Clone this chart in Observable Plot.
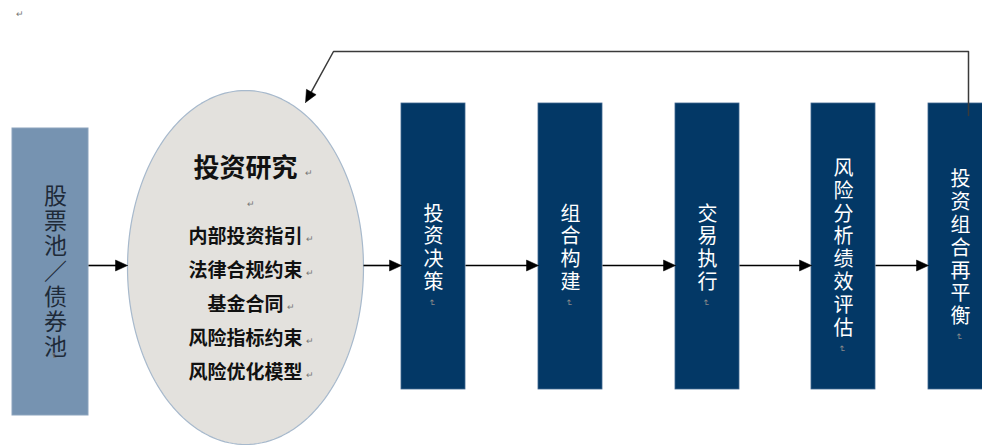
<!DOCTYPE html>
<html><head><meta charset="utf-8">
<script src="https://cdn.jsdelivr.net/npm/d3@7"></script>
<script src="https://cdn.jsdelivr.net/npm/@observablehq/plot@0.6"></script>
<style>
html,body{margin:0;padding:0;background:#fff;}
#chart{width:982px;height:446px;overflow:hidden;}
</style>
</head><body><div id="chart"></div>
<script>
// ---- content ----
const poolLabel = "股票池／债券池";
const researchTitle = "投资研究";
const researchItems = ["内部投资指引", "法律合规约束", "基金合同", "风险指标约束", "风险优化模型"];
const stages = ["投资决策", "组合构建", "交易执行", "风险分析绩效评估", "投资组合再平衡"];

// ---- layout ----
const W = 982, H = 446;
const flowY = 265;
const pool = {x1: 12, x2: 88, y1: 128, y2: 415};
const ell = {cx: 245, cy: 267, rx: 118, ry: 177};
const stageLeft = [401, 538, 675, 811, 928];
const stageW = 64, stageTop = 103, stageBottom = 389;
const fb = {x: 968, yStart: 115, yTop: 51, xTurn: 333, tipX: 305, tipY: 102};
const cjk = "'Noto Sans CJK SC', 'Noto Sans', sans-serif";

const stageRects = stages.map((s, i) => ({name: s, x1: stageLeft[i], x2: stageLeft[i] + stageW, y1: stageTop, y2: stageBottom}));

const ellPts = d3.range(0, 361, 2).map(a => ({
  x: ell.cx + ell.rx * Math.cos(a * Math.PI / 180),
  y: ell.cy + ell.ry * Math.sin(a * Math.PI / 180)
}));

const segs = [[pool.x2, ell.cx - ell.rx], [ell.cx + ell.rx, stageLeft[0]]];
for (let i = 0; i < stageLeft.length - 1; i++) segs.push([stageLeft[i] + stageW, stageLeft[i + 1]]);

const headL = 12, headW = 5.5;
function head(id, tx, ty, ux, uy) {
  const n = Math.hypot(ux, uy); ux /= n; uy /= n;
  const bx = tx - headL * ux, by = ty - headL * uy;
  return [
    {id, x: tx, y: ty},
    {id, x: bx - headW * uy, y: by + headW * ux},
    {id, x: bx + headW * uy, y: by - headW * ux},
    {id, x: tx, y: ty}
  ];
}
const flowLines = segs.map(([a, b]) => ({x1: a, x2: b - headL + 1, y: flowY}));
let heads = segs.flatMap(([a, b], i) => head("h" + i, b, flowY, 1, 0));

const dx = fb.tipX - fb.xTurn, dy = fb.tipY - fb.yTop, dn = Math.hypot(dx, dy);
const fbPts = [
  {x: fb.x, y: fb.yStart}, {x: fb.x, y: fb.yTop}, {x: fb.xTurn, y: fb.yTop},
  {x: fb.tipX - (headL - 1) * dx / dn, y: fb.tipY - (headL - 1) * dy / dn}
];
heads = heads.concat(head("fb", fb.tipX, fb.tipY, dx, dy));

const vert = s => Array.from(s).join("\n");
const stageText = stages.map((s, i) => ({t: vert(s), x: stageLeft[i] + stageW / 2, y: 247}));
const stageMarks = stages.map((s, i) => ({x: stageLeft[i] + stageW / 2 - 2, y: 247 + Array.from(s).length * 11.4 + 10}));
const itemRows = researchItems.map((t, i) => ({t, x: ell.cx, y: 236 + i * 34}));
const itemMarks = researchItems.map((t, i) => ({x: ell.cx + t.length * 9.5 + 7, y: 239 + i * 34}));

const chart = Plot.plot({
  width: W, height: H,
  margin: 0,
  x: {domain: [0, W], range: [0, W], axis: null},
  y: {domain: [0, H], range: [0, H], axis: null},
  style: {background: "#fff", overflow: "hidden"},
  marks: [
    Plot.rect([pool], {x1: "x1", x2: "x2", y1: "y1", y2: "y2", fill: "#7693B1", stroke: "#8BA3BD", strokeWidth: 1}),
    Plot.rect(stageRects, {x1: "x1", x2: "x2", y1: "y1", y2: "y2", fill: "#033866", stroke: "#3F6790", strokeWidth: 0.8}),
    Plot.line(ellPts, {x: "x", y: "y", fill: "#E3E1DD", stroke: "#A7B9CC", strokeWidth: 1.2, curve: "linear"}),
    Plot.link(flowLines, {x1: "x1", x2: "x2", y1: "y", y2: "y", stroke: "#000", strokeWidth: 1.6}),
    Plot.line(fbPts, {x: "x", y: "y", stroke: "#3a3a3a", strokeWidth: 1.5, curve: "linear"}),
    Plot.line(heads, {x: "x", y: "y", z: "id", fill: "#000", stroke: "#000", strokeWidth: 0.5, curve: "linear"}),
    Plot.text([{t: vert(poolLabel), x: 55, y: 271}], {x: "x", y: "y", text: "t", fontSize: 23, lineHeight: 1.09, fill: "#1e2a38", fontFamily: cjk}),
    Plot.text([{x: 53, y: 355}], {x: "x", y: "y", text: () => "↵", rotate: 90, fontSize: 9, fill: "#777"}),
    Plot.text([{t: researchTitle, x: ell.cx, y: 168}], {x: "x", y: "y", text: "t", fontSize: 26, fontWeight: "bold", fill: "#111", fontFamily: cjk}),
    Plot.text([{x: ell.cx + 63, y: 173}, {x: ell.cx + 5, y: 204}], {x: "x", y: "y", text: () => "↵", fontSize: 9, fill: "#777"}),
    Plot.text(itemRows, {x: "x", y: "y", text: "t", fontSize: 19, fontWeight: "bold", fill: "#111", fontFamily: cjk}),
    Plot.text(itemMarks, {x: "x", y: "y", text: () => "↵", fontSize: 9, fill: "#777"}),
    Plot.text(stageText, {x: "x", y: "y", text: "t", fontSize: 20, lineHeight: 1.14, fill: "#fff", fontFamily: cjk}),
    Plot.text(stageMarks, {x: "x", y: "y", text: () => "↵", rotate: 90, fontSize: 9, fill: "#8a8a8a"}),
    Plot.text([{x: 19, y: 14}], {x: "x", y: "y", text: () => "↵", fontSize: 9, fill: "#777"})
  ]
});
document.getElementById("chart").appendChild(chart);
</script>
</body></html>
